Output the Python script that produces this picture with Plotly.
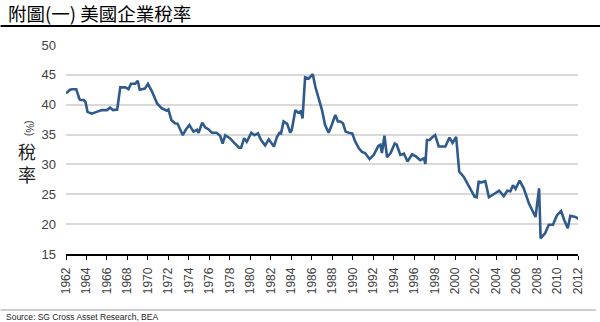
import plotly.graph_objects as go

# US corporate tax rate (%), roughly quarterly readings
years = [
    1962.0, 1962.4, 1962.6, 1963.0, 1963.3, 1963.4, 1963.7, 1963.9, 1964.1, 1964.5,
    1965.0, 1965.5, 1966.0, 1966.3, 1966.6, 1967.0, 1967.3, 1967.8, 1968.1, 1968.35,
    1968.75, 1969.0, 1969.2, 1969.7, 1970.0, 1970.4, 1970.9, 1971.35, 1971.85, 1972.0,
    1972.3, 1972.65, 1972.9, 1973.4, 1973.7, 1974.05, 1974.45, 1974.8, 1974.95, 1975.3,
    1975.6, 1975.9, 1976.25, 1976.7, 1977.05, 1977.3, 1977.55, 1978.0, 1978.5, 1978.9,
    1979.1, 1979.4, 1979.65, 1980.1, 1980.4, 1980.75, 1981.05, 1981.45, 1981.8, 1982.3,
    1982.6, 1982.85, 1983.0, 1983.25, 1983.6, 1983.9, 1984.05, 1984.4, 1984.65, 1984.95,
    1985.1, 1985.35, 1985.7, 1985.9, 1986.1, 1986.35, 1986.65, 1987.0, 1987.3, 1987.65,
    1987.95, 1988.3, 1988.55, 1988.8, 1989.05, 1989.3, 1989.6, 1989.95, 1990.25, 1990.6,
    1990.9, 1991.2, 1991.65, 1992.05, 1992.5, 1992.7, 1992.85, 1993.1, 1993.35, 1993.7,
    1994.1, 1994.3, 1994.65, 1995.0, 1995.35, 1995.8, 1996.2, 1996.6, 1996.95, 1997.1,
    1997.25, 1997.5, 1997.8, 1998.05, 1998.4, 1999.05, 1999.45, 1999.75, 2000.1, 2000.4,
    2000.85, 2001.3, 2001.9, 2002.1, 2002.3, 2002.6, 2002.95, 2003.3, 2003.8, 2004.3,
    2004.75, 2005.1, 2005.4, 2005.65, 2005.9, 2006.3, 2006.7, 2007.2, 2007.85, 2008.2,
    2008.35, 2008.8, 2009.15, 2009.55, 2009.95, 2010.35, 2010.65, 2011.0, 2011.25, 2011.75,
    2012.05,
]
tax_rate = [
    41.9, 42.5, 42.6, 42.6, 41.0, 40.8, 40.8, 40.5, 38.8, 38.5,
    38.8, 39.1, 39.1, 39.5, 39.1, 39.2, 42.9, 42.9, 42.6, 43.5,
    43.5, 44.0, 42.5, 42.7, 43.5, 42.2, 40.2, 39.4, 39.0, 39.2,
    37.4, 36.9, 36.8, 34.9, 35.8, 36.6, 35.5, 35.8, 35.3, 37.0,
    36.2, 35.9, 35.3, 35.3, 34.8, 33.5, 34.9, 34.4, 33.5, 32.8,
    32.8, 34.4, 33.8, 35.3, 34.9, 35.2, 34.1, 33.2, 34.2, 33.0,
    34.6, 35.3, 35.2, 37.2, 36.8, 35.3, 35.8, 39.1, 38.7, 38.9,
    37.7, 44.6, 44.4, 44.8, 45.1, 43.0, 41.1, 39.1, 36.6, 35.3,
    36.6, 38.3, 37.2, 37.2, 36.9, 35.5, 35.3, 35.2, 33.8, 32.7,
    32.1, 31.9, 30.9, 31.6, 33.1, 33.3, 31.9, 34.8, 31.2, 31.9,
    33.5, 33.3, 31.6, 31.8, 30.5, 31.7, 31.3, 30.7, 31.0, 30.1,
    34.1, 34.1, 34.6, 34.9, 33.0, 33.0, 34.5, 33.6, 34.6, 28.8,
    27.9, 26.5, 24.6, 24.5, 27.1, 27.0, 27.2, 24.5, 25.0, 25.6,
    24.7, 25.6, 25.5, 26.5, 25.9, 27.3, 26.0, 23.5, 21.2, 26.0,
    17.6, 18.5, 19.9, 19.9, 21.5, 22.2, 20.7, 19.3, 21.4, 21.2,
    20.9,
]

x_ticks = list(range(1962, 2013, 2))
x_tick_labels = [str(y) for y in x_ticks]
y_ticks = [15, 20, 25, 30, 35, 40, 45, 50]

W, H = 600, 322
ML, MR, MT, MB = 65.5, 22, 45, 68
PW, PH = W - ML - MR, H - MT - MB


def px(x):
    return (x - ML) / PW


def py(y):
    return (H - MB - y) / PH


LABEL_FONT = "Arial, Liberation Sans, sans-serif"
CJK_FONT = "Noto Sans CJK TC, sans-serif"

fig = go.Figure(
    go.Scatter(
        x=years,
        y=tax_rate,
        mode="lines",
        line=dict(color="#2f5a8c", width=2.6),
        hoverinfo="x+y",
    )
)

fig.update_layout(
    width=W,
    height=H,
    margin=dict(l=ML, r=MR, t=MT, b=MB, pad=0),
    paper_bgcolor="white",
    plot_bgcolor="white",
    showlegend=False,
    xaxis=dict(
        range=[1962, 2012],
        tickvals=x_ticks,
        ticktext=x_tick_labels,
        tickangle=-90,
        ticks="outside",
        ticklen=4,
        tickwidth=1.2,
        tickcolor="black",
        ticklabelstandoff=3,
        showline=True,
        linecolor="black",
        linewidth=1.6,
        showgrid=False,
        zeroline=False,
        tickfont=dict(family=LABEL_FONT, size=12, color="#404040"),
    ),
    yaxis=dict(
        range=[15, 50],
        tickvals=y_ticks,
        showgrid=True,
        gridcolor="#d9d9d9",
        gridwidth=1.5,
        showline=False,
        zeroline=False,
        ticks="",
        ticklabelstandoff=9,
        tickfont=dict(family=LABEL_FONT, size=13, color="#404040"),
    ),
    shapes=[
        # rule under the title
        dict(type="line", xref="paper", yref="paper",
             x0=px(0), x1=px(W), y0=py(26), y1=py(26),
             line=dict(color="black", width=2.2)),
        # rule above the source note
        dict(type="line", xref="paper", yref="paper",
             x0=px(0), x1=px(596), y0=py(310), y1=py(310),
             line=dict(color="#bdbdbd", width=1.6)),
    ],
    annotations=[
        dict(text="附圖(一) 美國企業稅率", xref="paper", yref="paper",
             x=px(5), y=py(13), xanchor="left", yanchor="middle",
             showarrow=False, font=dict(family=CJK_FONT, size=18.5, color="black")),
        dict(text="(%)", xref="paper", yref="paper",
             x=px(28), y=py(128), xanchor="center", yanchor="middle",
             textangle=90, showarrow=False,
             font=dict(family=LABEL_FONT, size=10, color="#333333")),
        dict(text="稅<br>率", xref="paper", yref="paper",
             x=px(26), y=py(162), xanchor="center", yanchor="middle",
             showarrow=False,
             font=dict(family=CJK_FONT, size=18, color="#222222")),
        dict(text="Source: SG Cross Asset Research, BEA", xref="paper", yref="paper",
             x=px(3), y=py(317), xanchor="left", yanchor="middle",
             showarrow=False, font=dict(family=LABEL_FONT, size=8.5, color="#222222")),
    ],
)

fig.write_html("out.html")
